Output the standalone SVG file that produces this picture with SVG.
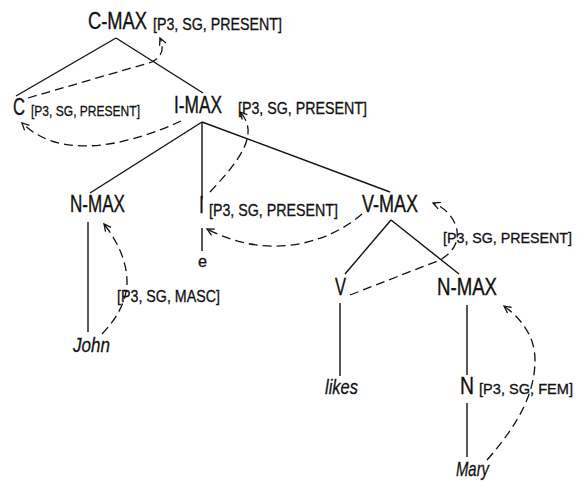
<svg xmlns="http://www.w3.org/2000/svg" width="577" height="481" viewBox="0 0 577 481">
<defs>
<style>
.n{font-family:"Liberation Sans",Arial,sans-serif;font-size:23px;fill:#111;stroke:#111;stroke-width:0.35}
.f{font-family:"Liberation Sans",Arial,sans-serif;font-size:16px;fill:#111;stroke:#111;stroke-width:0.3}
.w{font-family:"Liberation Sans",Arial,sans-serif;font-size:21px;font-style:italic;fill:#111;stroke:#111;stroke-width:0.3}
.e{font-family:"Liberation Sans",Arial,sans-serif;font-size:16px;fill:#111;stroke:#111;stroke-width:0.3}
.t{stroke:#111;stroke-width:1.4;fill:none}
.d{stroke:#111;stroke-width:1.3;fill:none;stroke-dasharray:9 5;marker-end:url(#ah)}
</style>
<marker id="ah" viewBox="-8 -5 10 10" markerWidth="10" markerHeight="10" refX="0" refY="0" orient="auto" markerUnits="userSpaceOnUse">
<path d="M-7,-3.5 L0,0 L-7,3.5" fill="none" stroke="#111" stroke-width="1.3"/>
</marker>
</defs>
<rect width="577" height="481" fill="#fff"/>
<g id="edges">
<path class="t" d="M116,38 L16,96"/>
<path class="t" d="M116,38 L203,93"/>
<path class="t" d="M202,122 L90,193"/>
<path class="t" d="M202,122 L202,199"/>
<path class="t" d="M202,122 L390,192"/>
<path class="t" d="M202,228 L202,251"/>
<path class="t" d="M88,222 L88,332"/>
<path class="t" d="M391,220 L345,274"/>
<path class="t" d="M391,220 L459,274"/>
<path class="t" d="M340,303 L340,376"/>
<path class="t" d="M467,305 L467,375"/>
<path class="t" d="M467,403 L467,457"/>
<path class="d" d="M28,98 L152,62 Q167,54 160,38"/>
<path class="d" d="M181,121 C140,140 65,165 22,123"/>
<path class="d" d="M210,192 C235,165 262,135 240,112"/>
<path class="d" d="M362,214 C330,242 270,262 207,229"/>
<path class="d" d="M350,295 L440,260 Q462,247 456,226 Q450,210 433,203"/>
<path class="d" d="M102,334 Q125,310 127,285 Q128,255 104,224"/>
<path class="d" d="M487,460 C522,420 535,390 535,360 C535,335 520,318 504,306"/>
</g>
<g id="cmax"><text class="n" x="88" y="29" textLength="59" lengthAdjust="spacingAndGlyphs">C-MAX</text>
<text class="f" x="153" y="30" textLength="129" lengthAdjust="spacingAndGlyphs">[P3, SG, PRESENT]</text></g>
<g id="c"><text class="n" x="13" y="115" textLength="12" lengthAdjust="spacingAndGlyphs">C</text>
<text class="f" x="31" y="116" textLength="109" lengthAdjust="spacingAndGlyphs" style="font-size:15px">[P3, SG, PRESENT]</text></g>
<g id="imax"><text class="n" x="174" y="113" textLength="48" lengthAdjust="spacingAndGlyphs">I-MAX</text>
<text class="f" x="238" y="114" textLength="129" lengthAdjust="spacingAndGlyphs">[P3, SG, PRESENT]</text></g>
<g id="nmax1"><text class="n" x="70" y="212" textLength="55" lengthAdjust="spacingAndGlyphs">N-MAX</text></g>
<g id="i"><text class="n" x="199" y="213" textLength="5" lengthAdjust="spacingAndGlyphs">I</text>
<text class="f" x="209" y="216" textLength="129" lengthAdjust="spacingAndGlyphs">[P3, SG, PRESENT]</text></g>
<g id="e"><text class="e" x="198" y="267" textLength="9" lengthAdjust="spacingAndGlyphs">e</text></g>
<g id="vmax"><text class="n" x="362" y="212" textLength="56" lengthAdjust="spacingAndGlyphs">V-MAX</text>
<text class="f" x="443" y="243" textLength="129" lengthAdjust="spacingAndGlyphs" style="font-size:14.5px">[P3, SG, PRESENT]</text></g>
<g id="john"><text class="f" x="117" y="302" textLength="103" lengthAdjust="spacingAndGlyphs">[P3, SG, MASC]</text>
<text class="w" x="73" y="352" textLength="37" lengthAdjust="spacingAndGlyphs">John</text></g>
<g id="v"><text class="n" x="335" y="295" textLength="11" lengthAdjust="spacingAndGlyphs">V</text></g>
<g id="nmax2"><text class="n" x="437" y="295" textLength="60" lengthAdjust="spacingAndGlyphs">N-MAX</text></g>
<g id="likes"><text class="w" x="325" y="394" textLength="33" lengthAdjust="spacingAndGlyphs">likes</text></g>
<g id="n"><text class="n" x="460" y="394" textLength="14" lengthAdjust="spacingAndGlyphs">N</text>
<text class="f" x="479" y="394" textLength="94" lengthAdjust="spacingAndGlyphs" style="font-size:14.5px">[P3, SG, FEM]</text></g>
<g id="mary"><text class="w" x="456" y="476" textLength="33" lengthAdjust="spacingAndGlyphs">Mary</text></g>
</svg>
